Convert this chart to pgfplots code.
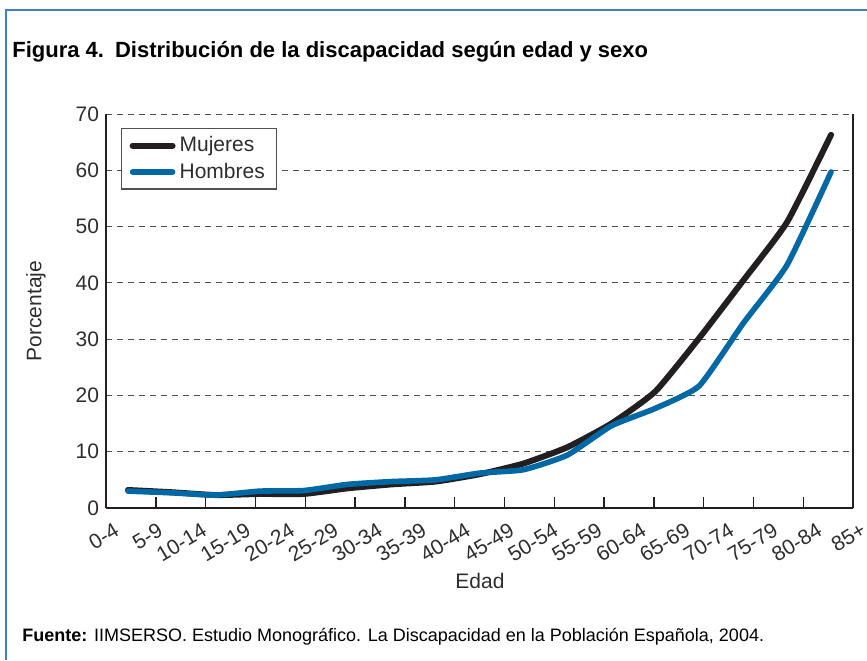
\documentclass[border=0pt]{standalone}
\usepackage{fontspec}
\setmainfont{Liberation Sans}
\usepackage{pgfplots}
\pgfplotsset{compat=1.18}
\usepackage{pgfplotstable}
\usetikzlibrary{calc}

\definecolor{lineblack}{RGB}{35,31,32}
\definecolor{lineblue}{RGB}{0,104,164}
\definecolor{frameblue}{RGB}{64,128,191}
\definecolor{txt}{RGB}{45,45,45}
\definecolor{gridc}{RGB}{80,80,80}

% one pixel of the reference
\newcommand\pu{0.5pt}

\pgfplotstableread{
x    muj  hom
0.5  3.2  3.0
1.5  2.8  2.7
2.5  2.3  2.3
3.5  2.5  3.0
4.5  2.5  3.1
5.5  3.5  4.2
6.5  4.2  4.7
7.5  4.7  5.0
8.5  6.0  6.2
9.5  7.9  6.8
10.5 10.8 9.4
11.5 15.0 14.6
12.5 20.7 17.7
13.5 30.2 21.7
14.5 40.4 32.8
15.5 50.8 43.2
16.5 66.3 59.7
}\datos

\begin{document}
\begin{tikzpicture}
\useasboundingbox (0,0) rectangle (867*\pu,-660*\pu);

% marco azul
\draw[frameblue, line width=1pt] (6*\pu,-660*\pu) -- (6*\pu,-10*\pu) -- (867*\pu,-10*\pu);

\node[anchor=base west, inner sep=0pt, font=\fontsize{11}{13}\selectfont\bfseries, text=black]
  at (12*\pu,-57*\pu) {Figura 4.\hspace{0.5em}Distribución de la discapacidad según edad y sexo};

\begin{axis}[
    name=ax,
    at={(106*\pu,-508*\pu)}, anchor=south west,
    scale only axis,
    width=747*\pu, height=394*\pu,
    xmin=0, xmax=17, ymin=0, ymax=70,
    axis x line*=bottom,
    axis line style={-, line width=0.7pt, draw=lineblack},
    xtick={0,...,17},
    xticklabels={0-4,5-9,10-14,15-19,20-24,25-29,30-34,35-39,40-44,45-49,50-54,55-59,60-64,65-69,70-74,75-79,80-84,85+},
    major tick length=0pt,
    x tick label style={rotate=31, anchor=north east, font=\fontsize{10.5}{12}\selectfont, text=txt, inner sep=0.5pt, yshift=-7pt},
    extra x ticks={1.1333,2.2667,3.4,4.5333,5.6667,6.8,7.9333,9.0667,10.2,11.3333,12.4667,13.6,14.7333,15.8667},
    extra x tick labels={},
    extra x tick style={grid=none, tick align=inside, major tick length=5.5pt,
        major tick style={draw=lineblack, line width=0.7pt}},
    ytick={0,10,...,70},
    ytick style={draw=none},
    y tick label style={font=\fontsize{10.5}{12}\selectfont, text=txt},
    /pgf/number format/assume math mode=true,
    ymajorgrids,
    major grid style={dash pattern=on 3pt off 2.5pt, line width=0.5pt, draw=gridc},
    legend style={at={(axis description cs:0,1)}, anchor=north west,
        xshift=15*\pu, yshift=-14*\pu,
        draw=gridc, line width=0.6pt, fill=white,
        font=\fontsize{10.5}{12.5}\selectfont, text=txt,
        inner xsep=4pt, inner ysep=2pt, row sep=0pt},
    legend cell align=left,
    legend image code/.code={\draw[#1, line cap=round] (0pt,0pt) -- (20pt,0pt);},
]
\addplot[lineblack, line width=3pt, smooth, tension=0.3, line join=round, line cap=round] table[x=x, y=muj] {\datos};
\addlegendentry{Mujeres}
\addplot[lineblue, line width=2.8pt, smooth, tension=0.3, line join=round, line cap=round] table[x=x, y=hom] {\datos};
\addlegendentry{Hombres}
\end{axis}

\node[rotate=90, font=\fontsize{10.5}{12}\selectfont, text=txt] at (36*\pu,-311*\pu) {Porcentaje};
\node[anchor=base, font=\fontsize{10.5}{12}\selectfont, text=txt] at (480*\pu,-588*\pu) {Edad};
\node[anchor=base west, inner sep=0pt, font=\fontsize{9}{11}\selectfont, text=black]
  at (22*\pu,-641*\pu) {\textbf{Fuente:} IIMSERSO. Estudio Monográfico. La Discapacidad en la Población Española, 2004.};
\end{tikzpicture}
\end{document}
